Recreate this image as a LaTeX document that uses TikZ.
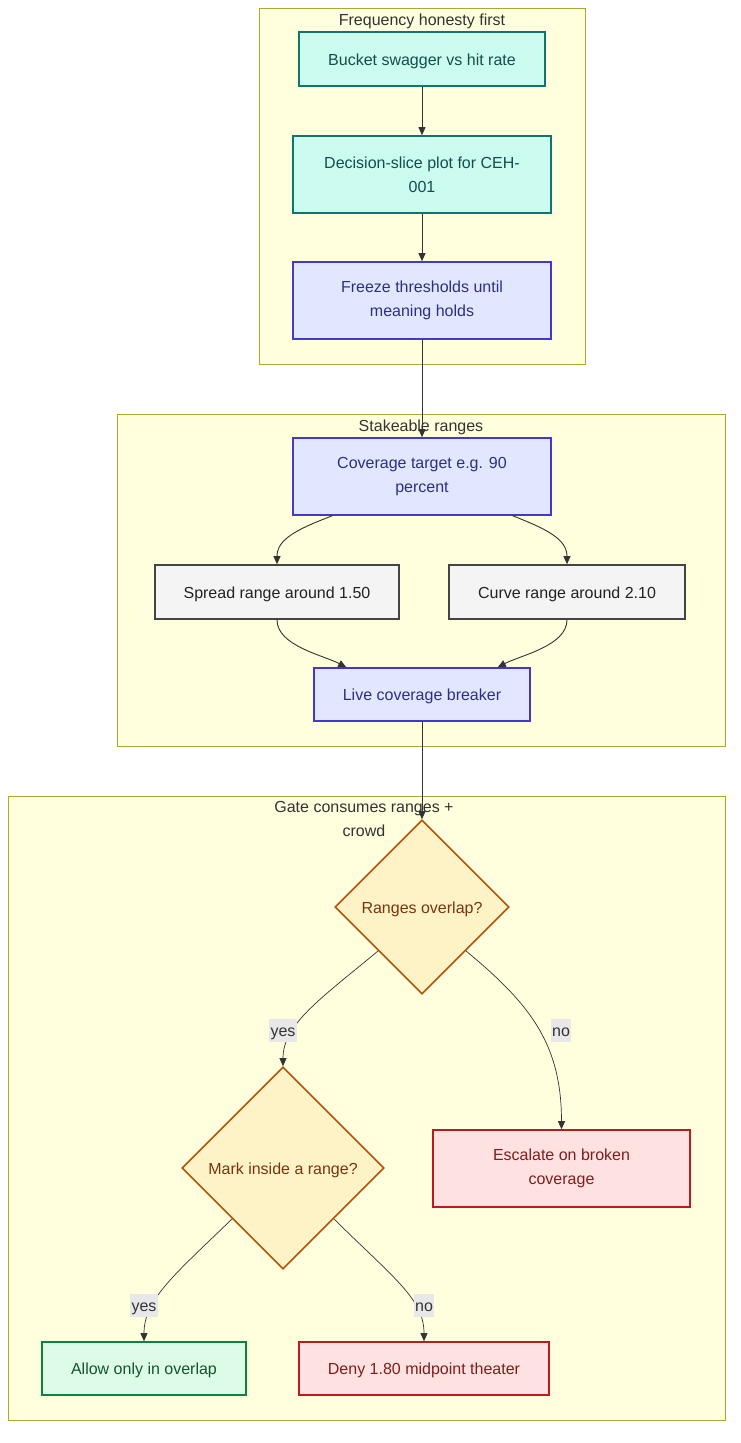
\documentclass[tikz,border=0pt]{standalone}
\usepackage{fontspec}
\setmainfont{Liberation Sans}
\usetikzlibrary{shapes.geometric,arrows.meta,calc}
\definecolor{clfill}{HTML}{FFFFDE}
\definecolor{cldraw}{HTML}{AAAA33}
\definecolor{tealfill}{HTML}{CCFBEF}
\definecolor{tealdraw}{HTML}{0F766E}
\definecolor{tealtext}{HTML}{134E4A}
\definecolor{bluefill}{HTML}{E0E7FF}
\definecolor{bluedraw}{HTML}{4338CA}
\definecolor{bluetext}{HTML}{312E81}
\definecolor{greyfill}{HTML}{F4F4F4}
\definecolor{greydraw}{HTML}{444444}
\definecolor{greytext}{HTML}{222222}
\definecolor{ambfill}{HTML}{FEF3C7}
\definecolor{ambdraw}{HTML}{B45309}
\definecolor{ambtext}{HTML}{78350F}
\definecolor{redfill}{HTML}{FEE2E2}
\definecolor{reddraw}{HTML}{B91C1C}
\definecolor{redtext}{HTML}{7F1D1D}
\definecolor{grnfill}{HTML}{DCFCE7}
\definecolor{grndraw}{HTML}{15803D}
\definecolor{grntext}{HTML}{14532D}
\definecolor{edgecol}{HTML}{333333}
\definecolor{lblfill}{HTML}{E8E8E8}
\begin{document}
\begin{tikzpicture}[x=1pt,y=-1pt,
  every node/.style={font=\fontsize{16pt}{24pt}\selectfont},
  oneline/.style={text height=16pt,text depth=4pt},
  cluster/.style={draw=cldraw,fill=clfill,line width=1pt},
  ctitle/.style={text=edgecol,align=center,inner sep=0pt},
  box/.style={rectangle,line width=1.6pt,inner sep=0pt,align=center},
  tealbox/.style={box,fill=tealfill,draw=tealdraw,text=tealtext},
  bluebox/.style={box,fill=bluefill,draw=bluedraw,text=bluetext},
  greybox/.style={box,fill=greyfill,draw=greydraw,text=greytext},
  redbox/.style={box,fill=redfill,draw=reddraw,text=redtext},
  grnbox/.style={box,fill=grnfill,draw=grndraw,text=grntext},
  decision/.style={diamond,aspect=1,line width=1.6pt,inner sep=0pt,fill=ambfill,draw=ambdraw,text=ambtext,oneline},
  edge/.style={draw=edgecol,line width=0.9pt,-{Triangle[length=8pt,width=7pt]}},
  thinedge/.style={edge,line width=0.7pt},
  elabel/.style={fill=lblfill,text=edgecol,inner sep=1.5pt,oneline}
]
\useasboundingbox (0,0) rectangle (741,1443);
\fill[white] (0,0) rectangle (741,1443);

% clusters
\draw[cluster] (259,8) rectangle (585,364);
\node[ctitle,oneline] (t1) at (422,19) {Frequency honesty first};
\draw[cluster] (117,414) rectangle (725,746);
\node[ctitle,oneline] (t2) at (421,425) {Stakeable ranges};
\draw[cluster] (8,796) rectangle (725,1420);
\node[ctitle] (t3) at (364,819) {Gate consumes ranges +\\crowd};

% nodes
\node[tealbox,oneline,minimum width=246pt,minimum height=54pt] (A) at (422,59) {Bucket swagger vs hit rate};
\node[tealbox,minimum width=258pt,minimum height=77pt] (B) at (422,174.5) {Decision-slice plot for CEH-\\001};
\node[bluebox,minimum width=258pt,minimum height=77pt] (C) at (422,300.5) {Freeze thresholds until\\meaning holds};
\node[bluebox,minimum width=258pt,minimum height=77pt] (D) at (422,476.5) {Coverage target e.g. 90\\percent};
\node[greybox,oneline,minimum width=244pt,minimum height=54pt] (E) at (277,592) {Spread range around 1.50};
\node[greybox,oneline,minimum width=236pt,minimum height=54pt] (F) at (567,592) {Curve range around 2.10};
\node[bluebox,oneline,minimum width=216pt,minimum height=53pt] (G) at (422,694.5) {Live coverage breaker};
\node[decision,minimum width=174pt,minimum height=174pt] (H) at (422,907) {Ranges overlap?};
\node[decision,minimum width=202pt,minimum height=202pt] (I) at (283,1168) {Mark inside a range?};
\node[redbox,minimum width=257pt,minimum height=77pt] (J) at (561.5,1168.5) {Escalate on broken\\coverage};
\node[grnbox,oneline,minimum width=204pt,minimum height=53pt] (K) at (144,1368.5) {Allow only in overlap};
\node[redbox,oneline,minimum width=250pt,minimum height=53pt] (L) at (424,1368.5) {Deny 1.80 midpoint theater};

% edges
\draw[edge] (A.south) -- (B.north);
\draw[edge] (B.south) -- (C.north);
\draw[edge] (C.south) -- (D.north);
\draw[edge] ($(D.south west)+(40,0)$) .. controls ($(E.north)+(20,-35)$) and ($(E.north)+(0,-25)$) .. (E.north);
\draw[edge] ($(D.south east)+(-39,0)$) .. controls ($(F.north)+(-20,-35)$) and ($(F.north)+(0,-25)$) .. (F.north);
\draw[edge] (E.south) .. controls ($(E.south)+(0,26)$) and ($(G.north west)+(10,-12)$) .. ($(G.north west)+(33,0)$);
\draw[edge] (F.south) .. controls ($(F.south)+(0,26)$) and ($(G.north east)+(-10,-12)$) .. ($(G.north east)+(-33,0)$);
\draw[edge] (G.south) -- (H.north);
\draw[thinedge] (H.south west) .. controls ($(I.north)+(37,-67)$) and ($(I.north)+(0,-42)$) .. (I.north);
\draw[thinedge] (H.south east) .. controls ($(J.north)+(-31,-125)$) and ($(J.north)+(0,-85)$) .. (J.north);
\draw[thinedge] (I.south west) .. controls ($(K.north)+(31,-67)$) and ($(K.north)+(0,-42)$) .. (K.north);
\draw[thinedge] (I.south east) .. controls ($(L.north)+(-29,-62)$) and ($(L.north)+(0,-42)$) .. (L.north);

% edge labels
\node[elabel] (l1) at (283,1030) {yes};
\node[elabel] (l2) at (561,1030) {no};
\node[elabel] (l3) at (144,1305) {yes};
\node[elabel] (l4) at (424,1305) {no};
\end{tikzpicture}
\end{document}
